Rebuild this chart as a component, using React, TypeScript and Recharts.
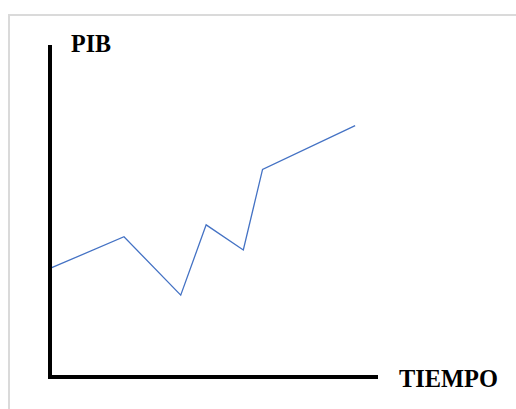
import React from 'react';
import { LineChart, Line, XAxis, YAxis, Label } from 'recharts';

// tiempo (0-100) y PIB (0-100)
const tiempo = [0, 22.7, 40.1, 47.9, 59.3, 65.2, 93.6];
const pib = [32.9, 42.5, 24.8, 46.1, 38.5, 62.9, 76.2];

const data = tiempo.map((t, i) => ({ tiempo: t, pib: pib[i] }));

const labelFont = {
  fontFamily: '"Liberation Serif", "Times New Roman", serif',
  fontWeight: 700,
  fontSize: 26,
  fill: '#000',
  lengthAdjust: 'spacingAndGlyphs' as const,
};

const axisLine = { stroke: '#000', strokeWidth: 4, strokeLinecap: 'square' as const };

const App: React.FC = () => {
  return (
    <div style={{ position: 'absolute', left: 0, top: 0, width: 516, height: 409, background: '#fff' }}>
      <div
        style={{
          position: 'absolute',
          left: 8,
          top: 14,
          right: 0,
          bottom: 0,
          borderTop: '2px solid #dadada',
          borderLeft: '2px solid #dadada',
        }}
      />
      <div style={{ position: 'absolute', left: 0, top: 0 }}>
        <LineChart width={516} height={409} data={data} margin={{ top: 47, right: 140, bottom: 31, left: 49 }}>
          <XAxis
            dataKey="tiempo"
            type="number"
            domain={[0, 100]}
            height={1}
            tick={false}
            tickLine={false}
            axisLine={axisLine}
          >
            <Label
              content={({ viewBox }: any) => (
                <text x={viewBox.x + viewBox.width + 23} y={viewBox.y + 9.7} textLength={99} {...labelFont}>
                  TIEMPO
                </text>
              )}
            />
          </XAxis>
          <YAxis
            type="number"
            domain={[0, 100]}
            width={1}
            tick={false}
            tickLine={false}
            axisLine={axisLine}
          >
            <Label
              content={({ viewBox }: any) => (
                <text x={viewBox.x + viewBox.width + 21} y={viewBox.y + 4.5} textLength={40} {...labelFont}>
                  PIB
                </text>
              )}
            />
          </YAxis>
          <Line
            type="linear"
            dataKey="pib"
            stroke="#4472c4"
            strokeWidth={1.3}
            dot={false}
            isAnimationActive={false}
          />
        </LineChart>
      </div>
    </div>
  );
};

export default App;
